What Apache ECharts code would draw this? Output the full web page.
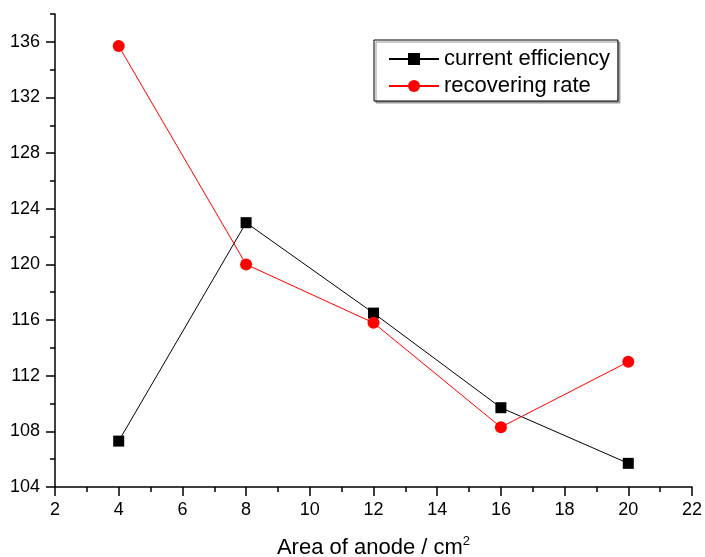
<!DOCTYPE html>
<html>
<head>
<meta charset="utf-8">
<script src="https://cdn.jsdelivr.net/npm/echarts@6/dist/echarts.min.js"></script>
<style>html,body{margin:0;padding:0;background:#fff}#c{width:705px;height:557px}</style>
</head>
<body>
<div id="c"></div>
<script>
const xValues = [4, 8, 12, 16, 20];
const currentEfficiency = [107.3, 123.0, 116.5, 109.7, 105.7];
const recoveringRate = [135.7, 120.0, 115.8, 108.3, 113.0];
const yMajorTicks = [104, 108, 112, 116, 120, 124, 128, 132, 136];
const yMinorTicks = [106, 110, 114, 118, 122, 126, 130, 134, 138];
const seriesNames = ['current efficiency', 'recovering rate'];
const xAxisName = 'Area of anode / cm';

const FONT = 'Liberation Sans, Arial, sans-serif';
const chart = echarts.init(document.getElementById('c'));
const pairs = arr => xValues.map((x, i) => [x, arr[i]]);

chart.setOption({
  animation: false,
  backgroundColor: '#fff',
  grid: { left: 55, right: 13, top: 14, bottom: 70, outerBoundsMode: 'none', containLabel: false },
  legend: {
    orient: 'vertical',
    left: 374, top: 40,
    padding: [8, 8, 4, 14],
    itemWidth: 50, itemHeight: 15, itemGap: 5,
    borderColor: '#000', borderWidth: 1,
    backgroundColor: '#fff',
    shadowColor: '#999', shadowOffsetX: 2, shadowOffsetY: 2, shadowBlur: 0,
    textStyle: { fontFamily: FONT, fontSize: 22, color: '#000' },
    data: seriesNames
  },
  xAxis: {
    type: 'value', min: 2, max: 22, interval: 2,
    name: xAxisName + '{sup|2}',
    nameLocation: 'middle', nameGap: 48,
    nameTextStyle: { fontFamily: FONT, fontSize: 22, color: '#000',
      rich: { sup: { fontFamily: FONT, fontSize: 13, color: '#000', padding: [0, 0, 12, 0] } } },
    axisLine: { lineStyle: { color: '#000', width: 1.5 } },
    axisTick: { length: 9, lineStyle: { color: '#000', width: 1.5 } },
    minorTick: { show: true, splitNumber: 2, length: 5, lineStyle: { color: '#000', width: 1.5 } },
    axisLabel: { fontFamily: FONT, fontSize: 18, color: '#000', margin: 14 },
    splitLine: { show: false }
  },
  yAxis: [{
    type: 'value', min: 104, max: 138, interval: 2, position: 'left',
    axisLine: { show: true, lineStyle: { color: '#000', width: 1.5 } },
    axisTick: { show: true, length: 9, customValues: yMajorTicks, lineStyle: { color: '#000', width: 1.5 } },
    axisLabel: { fontFamily: FONT, fontSize: 18, color: '#000', margin: 15, customValues: yMajorTicks },
    splitLine: { show: false }
  }, {
    type: 'value', min: 104, max: 138, interval: 2, position: 'left', offset: 0,
    axisLine: { show: false },
    axisTick: { show: true, length: 5, customValues: yMinorTicks, lineStyle: { color: '#000', width: 1.5 } },
    axisLabel: { show: false },
    splitLine: { show: false }
  }],
  series: [{
    name: seriesNames[0], type: 'line', yAxisIndex: 0,
    data: pairs(currentEfficiency),
    symbol: 'rect', symbolSize: 11,
    itemStyle: { color: '#000' },
    lineStyle: { color: '#000', width: 1 }
  }, {
    name: seriesNames[1], type: 'line', yAxisIndex: 0,
    data: pairs(recoveringRate),
    symbol: 'circle', symbolSize: 12,
    itemStyle: { color: '#ff0000' },
    lineStyle: { color: '#ff0000', width: 1 }
  }]
});
</script>
</body>
</html>
